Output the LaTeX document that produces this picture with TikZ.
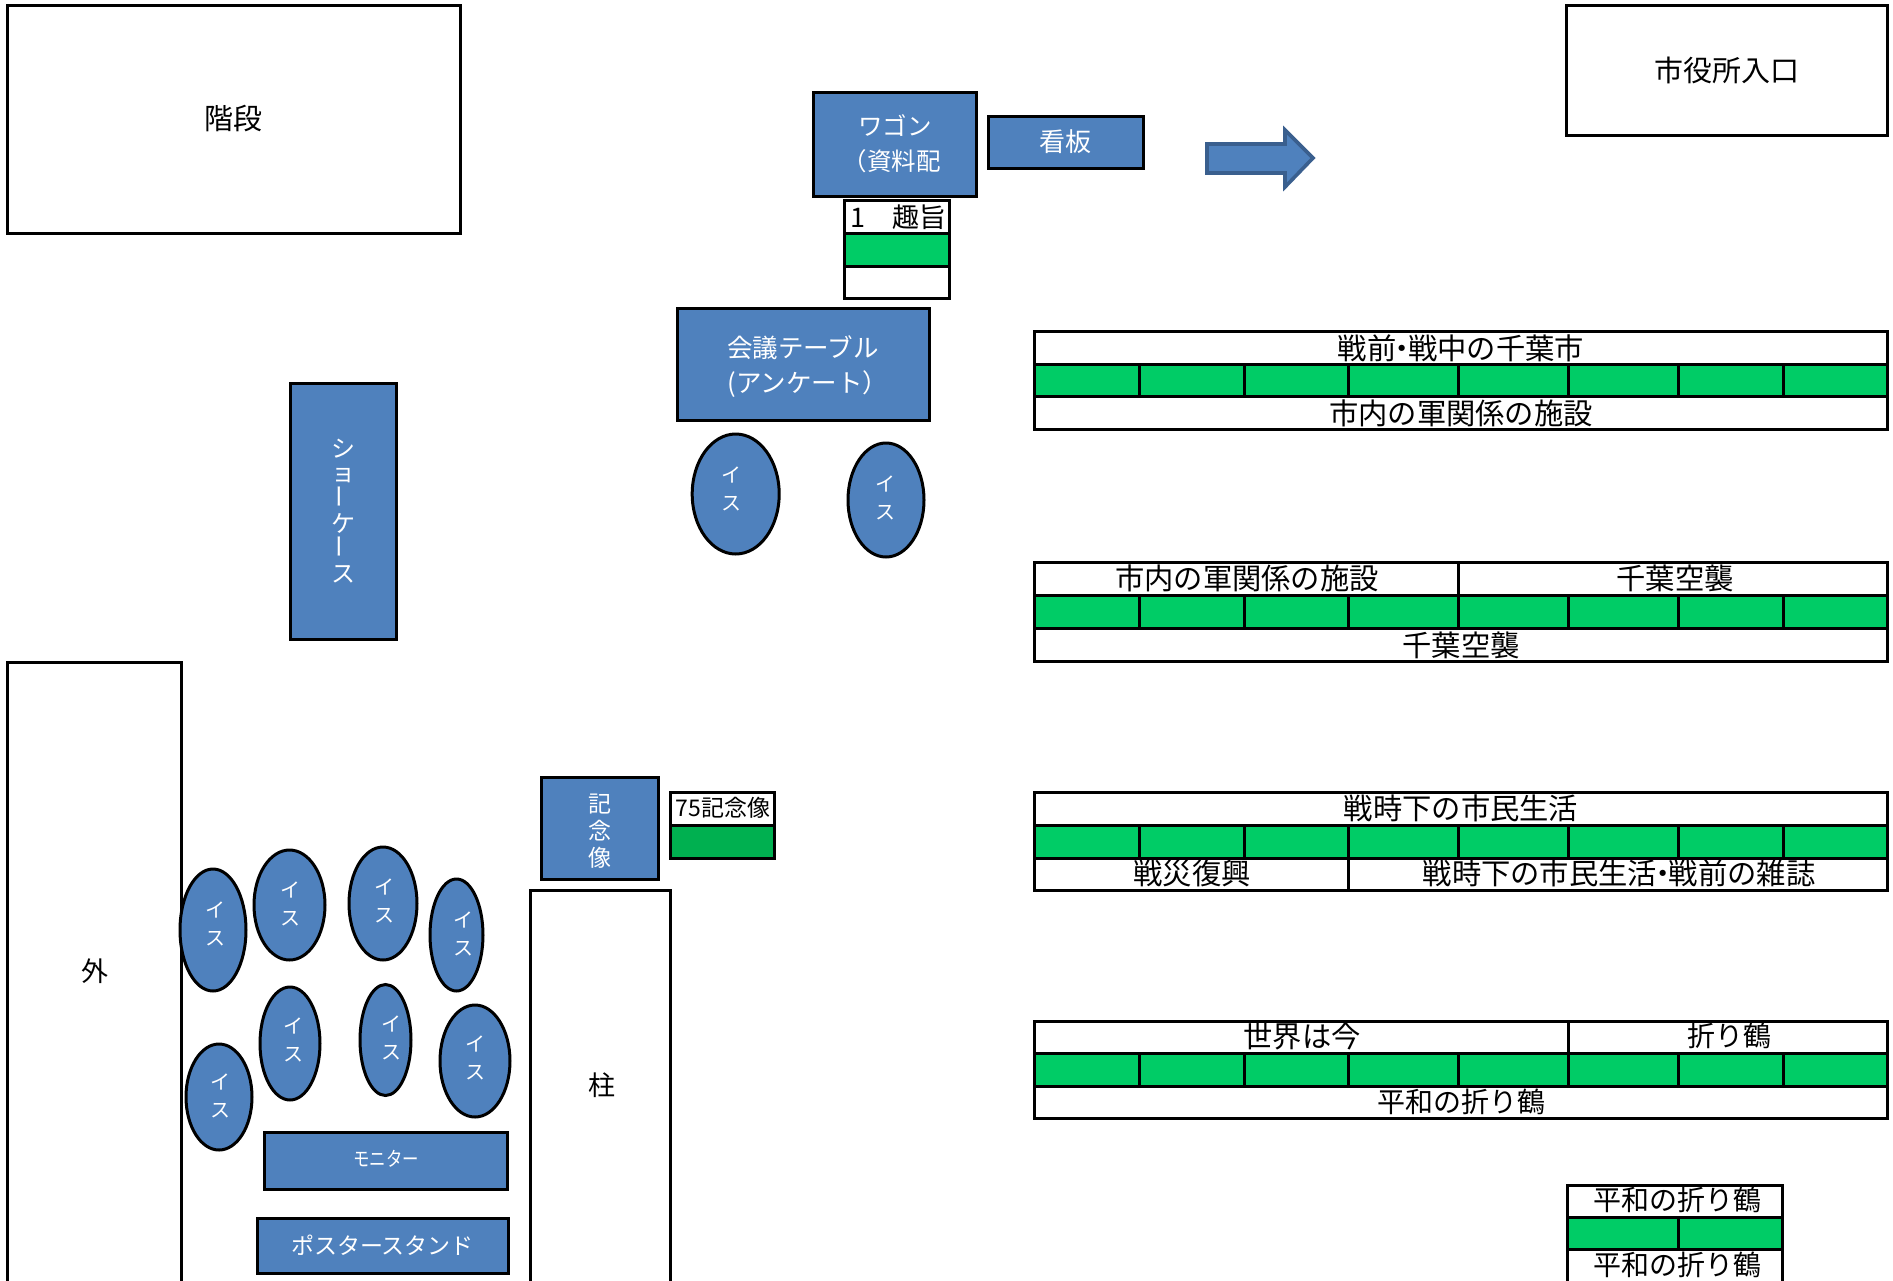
\documentclass[tikz,border=0pt]{standalone}
\usepackage{fontspec}
\usetikzlibrary{shapes.geometric}
\setmainfont{Noto Sans CJK JP}
\definecolor{blueA}{HTML}{4F81BD}
\definecolor{blueB}{HTML}{3A5F8E}
\definecolor{greenA}{HTML}{00CC66}
\definecolor{greenB}{HTML}{00B050}
\newcommand{\fsz}[1]{\fontsize{#1}{#1}\selectfont}
% \rbox{style}{corner}{corner}{name}{text}
\newcommand{\rbox}[5]{\draw[#1] (#2) rectangle (#3) node[pos=.5,boxlabel] (#4) {#5};}
% \chair{cx}{cy}{w}{h}{name}{text x}{text y}
\newcommand{\chair}[7]{\node[chairshape,minimum width=#3,minimum height=#4] (#5) at (#1,#2) {};
  \node[chairlabel] (#5t) at (#6,#7) {イ\\ス};}
\newcommand{\tlbl}[4]{\node[tlabel] (#1) at (#2,#3) {#4};}
\newcommand{\vbar}{\rotatebox{90}{ー}}
\newcommand{\gridrow}[2]{%
  \draw[greenrow] (1034,#1) rectangle (1887,#2);
  \foreach \cx in {1139,1244,1348,1458,1568,1678,1783}{\draw[rulepen] (\cx,#1) -- (\cx,#2);}}
\begin{document}
\begin{tikzpicture}[x=1pt,y=-1pt,
  bluebox/.style={draw=black,line width=3pt,fill=blueA,text=white},
  plainbox/.style={draw=black,line width=3pt,fill=white,text=black},
  boxlabel/.style={inner sep=0pt,align=center},
  chairshape/.style={ellipse,draw=black,line width=3pt,fill=blueA,inner sep=0pt},
  chairlabel/.style={text=white,inner sep=0pt,align=center,font=\fontsize{20}{28}\selectfont},
  rulepen/.style={draw=black,line width=3pt},
  greenrow/.style={draw=black,line width=3pt,fill=greenA},
  tablebox/.style={draw=black,line width=3pt,fill=white},
  tlabel/.style={inner sep=0pt,text=black,font=\fontsize{29.3}{30}\selectfont},
  cranelabel/.style={tlabel,font=\fontsize{28}{30}\selectfont},
  arrowshape/.style={draw=blueB,line width=3.6pt,fill=blueA,miter limit=10}]
\useasboundingbox (0,0) rectangle (1893,1280);
\fill[white] (0,0) rectangle (1893,1280);

% walls and fixed items
\rbox{plainbox,font=\fsz{29}}{7,5}{460,233}{stairs}{階段}
\rbox{plainbox,font=\fsz{29}}{1566,5}{1887,135}{entrance}{市役所入口}
\draw[plainbox] (7,662) rectangle (181,1295);
\node[boxlabel,font=\fsz{27}] (outside) at (95,971) {外};
\draw[plainbox] (530,890) rectangle (670,1295);
\node[boxlabel,font=\fsz{27}] (pillar) at (602,1085) {柱};

% blue items
\draw[bluebox] (813,92) rectangle (976,196);
\node[boxlabel,text=white,font=\fontsize{24.5}{35}\selectfont] (wagon) at (895,144) {ワゴン\\\hspace*{-7pt}（資料配};
\rbox{bluebox,font=\fsz{26}}{988,116}{1143,168}{sign}{看板}
\draw[arrowshape] (1207,144) -- (1285,144) -- (1285,130) -- (1313,158) -- (1285,187) -- (1285,173) -- (1207,173) -- cycle;
\draw[bluebox] (677,308) rectangle (929,420);
\node[boxlabel,text=white,font=\fontsize{25.5}{35}\selectfont] (table) at (803,366.5) {会議テーブル\\\hspace*{10pt}(アンケート）};
\rbox{bluebox,font=\fontsize{24}{24}\selectfont}{290,383}{396,639}{showcase}{シ\\ョ\\\vbar\\ケ\\\vbar\\ス}
\draw[bluebox] (541,777) rectangle (658,879);
\node[boxlabel,text=white,font=\fontsize{23}{27}\selectfont] (statue) at (600,831) {記\\念\\像};
\draw[bluebox] (264,1132) rectangle (507,1189);
\node[boxlabel,text=white,xscale=.82,font=\fsz{20}] (monitor) at (386,1159) {モニター};
\rbox{bluebox,font=\fsz{23}}{257,1218}{508,1273}{poster}{ポスタースタンド}

% chairs
\chair{735.7}{494}{87}{120}{chA}{731}{489}
\chair{886}{500}{76}{114}{chB}{885.5}{498}
\chair{213}{930}{66}{122}{chC}{215}{924}
\chair{289.5}{905}{71}{110}{chD}{290}{903.5}
\chair{383}{903.5}{68}{113}{chE}{384}{901}
\chair{456.5}{935}{53}{112}{chF}{463}{934}
\chair{290}{1043.5}{60}{113}{chG}{293.5}{1040}
\chair{385.5}{1040}{51}{111}{chH}{391}{1038}
\chair{475}{1061}{70}{112}{chI}{475}{1058}
\chair{219}{1097}{66}{106}{chJ}{220}{1096}

% small panels
\draw[tablebox] (844,200) rectangle (949,298);
\draw[greenrow] (844,233) rectangle (949,266);
\node[tlabel,font=\fsz{27}] (shushi) at (898,217) {1　趣旨};
\draw[tablebox] (670,792) rectangle (774,858);
\draw[draw=black,line width=3pt,fill=greenB] (670,825) rectangle (774,858);
\node[tlabel,font=\fsz{23}] (seventyfive) at (723,808) {75記念像};

% panel row 1
\draw[tablebox] (1034,331) rectangle (1887,429);
\gridrow{364}{396}
\tlbl{aTop}{1461}{348}{戦前\kern-.3em・\kern-.3em戦中の千葉市}
\tlbl{aBot}{1461}{413}{市内の軍関係の施設}

% panel row 2
\draw[tablebox] (1034,562) rectangle (1887,661);
\gridrow{595}{628}
\draw[rulepen] (1458,562) -- (1458,595);
\tlbl{bTopL}{1247}{578}{市内の軍関係の施設}
\tlbl{bTopR}{1675}{578}{千葉空襲}
\tlbl{bBot}{1461}{645}{千葉空襲}

% panel row 3
\draw[tablebox] (1034,792) rectangle (1887,890);
\gridrow{825}{858}
\draw[rulepen] (1348,858) -- (1348,892);
\tlbl{cTop}{1461}{808}{戦時下の市民生活}
\tlbl{cBotL}{1192}{873}{戦災復興}
\tlbl{cBotR}{1619}{873}{戦時下の市民生活\kern-.3em・\kern-.3em戦前の雑誌}

% panel row 4
\draw[tablebox] (1034,1021) rectangle (1887,1118);
\gridrow{1053}{1086}
\draw[rulepen] (1568,1021) -- (1568,1053);
\tlbl{dTopL}{1302}{1036}{世界は今}
\node[cranelabel] (dTopR) at (1729,1036) {折り鶴};
\node[cranelabel] (dBot) at (1461,1102) {平和の折り鶴};

% panel row 5
\draw[tablebox] (1567,1185) rectangle (1782,1295);
\draw[greenrow] (1567,1217) rectangle (1782,1249);
\draw[rulepen] (1678,1217) -- (1678,1249);
\node[cranelabel] (eTop) at (1677,1200) {平和の折り鶴};
\node[cranelabel] (eBot) at (1677,1265) {平和の折り鶴};
\end{tikzpicture}
\end{document}
